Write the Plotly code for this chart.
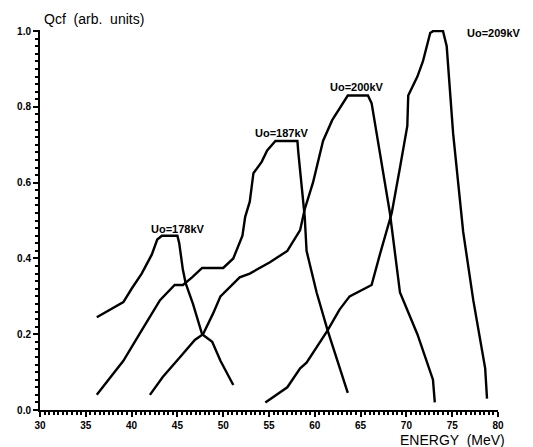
import plotly.graph_objects as go

# Uo = 178 kV
e178 = [36.2, 39.1, 40.0, 41.1, 42.2, 42.8, 43.3, 45.0, 45.2, 45.6, 45.9, 46.7, 47.7, 48.8, 49.7, 51.1]
q178 = [0.245, 0.285, 0.32, 0.36, 0.41, 0.45, 0.46, 0.46, 0.44, 0.37, 0.335, 0.28, 0.20, 0.18, 0.13, 0.066]

# Uo = 187 kV
e187 = [36.2, 39.1, 41.1, 43.1, 44.7, 45.6, 46.6, 47.7, 50.0, 51.1, 52.1, 52.4, 52.9, 53.3, 54.2, 54.8,
        55.7, 58.1, 58.2, 58.6, 58.9, 59.1, 60.2, 61.4, 62.5, 63.6]
q187 = [0.04, 0.13, 0.21, 0.29, 0.33, 0.33, 0.35, 0.375, 0.375, 0.40, 0.46, 0.51, 0.55, 0.625, 0.655, 0.685,
        0.71, 0.71, 0.68, 0.59, 0.51, 0.42, 0.31, 0.21, 0.125, 0.045]

# Uo = 200 kV
e200 = [42.0, 43.4, 45.3, 46.9, 47.8, 48.9, 49.7, 50.7, 51.8, 52.9, 55.1, 57.0, 58.4, 58.9, 59.8, 60.9,
        61.9, 63.6, 65.8, 66.2, 67.1, 68.2, 69.3, 71.2, 72.9, 73.1]
q200 = [0.04, 0.087, 0.14, 0.185, 0.20, 0.255, 0.30, 0.325, 0.35, 0.36, 0.39, 0.42, 0.475, 0.53, 0.60, 0.71,
        0.765, 0.83, 0.83, 0.81, 0.68, 0.52, 0.31, 0.20, 0.08, 0.02]

# Uo = 209 kV
e209 = [54.6, 57.0, 58.4, 59.1, 61.4, 62.7, 63.8, 65.7, 66.2, 67.1, 68.4, 69.3, 70.1, 70.2, 71.2, 71.8,
        72.6, 72.9, 74.0, 74.4, 75.1, 76.2, 77.3, 78.6, 78.8]
q209 = [0.02, 0.06, 0.11, 0.125, 0.21, 0.265, 0.30, 0.325, 0.33, 0.41, 0.52, 0.64, 0.75, 0.83, 0.88, 0.92,
        0.995, 1.0, 1.0, 0.96, 0.73, 0.47, 0.29, 0.11, 0.03]

labels = ["Uo=178kV", "Uo=187kV", "Uo=200kV", "Uo=209kV"]
label_e = [45.1, 56.4, 64.6, 79.6]
label_q = [0.477, 0.73, 0.852, 0.995]

x_ticks = [30, 35, 40, 45, 50, 55, 60, 65, 70, 75, 80]
y_ticks = [0.0, 0.2, 0.4, 0.6, 0.8, 1.0]

fig = go.Figure()
for e, q in [(e178, q178), (e187, q187), (e200, q200), (e209, q209)]:
    fig.add_trace(go.Scatter(x=e, y=q, mode="lines",
                             line=dict(color="black", width=2.4), showlegend=False, hoverinfo="skip"))

font = "Liberation Sans, Arial, sans-serif"
for t, x, y in zip(labels, label_e, label_q):
    fig.add_annotation(x=x, y=y, xref="x", yref="y", text=t, showarrow=False,
                       font=dict(family=font, size=11, color="black", weight="bold"))

fig.add_annotation(x=0.005, y=1.0, xref="paper", yref="paper", text="Qcf  (arb.  units)", showarrow=False,
                   xanchor="left", yanchor="bottom", yshift=1,
                   font=dict(family=font, size=14, color="black"))
fig.add_annotation(x=1.02, y=0, xref="paper", yref="paper", text="ENERGY  (MeV)", showarrow=False,
                   xanchor="right", yanchor="top", yshift=-20,
                   font=dict(family=font, size=14, color="black"))

fig.update_layout(
    width=533, height=447,
    margin=dict(l=40, r=35, t=30, b=37),
    paper_bgcolor="white", plot_bgcolor="white",
    xaxis=dict(range=[30, 80], tickvals=x_ticks, ticktext=[str(v) for v in x_ticks],
               showline=True, linecolor="black", linewidth=2, showgrid=False, zeroline=False,
               ticks="outside", ticklen=5, tickwidth=2, tickcolor="black",
               minor=dict(dtick=0.5, ticks="outside", ticklen=3, tickwidth=1.5, tickcolor="black"),
               tickfont=dict(family=font, size=10, color="black", weight="bold")),
    yaxis=dict(range=[0, 1.003], tickvals=y_ticks, ticktext=["%.1f" % v for v in y_ticks],
               showline=True, linecolor="black", linewidth=2, showgrid=False, zeroline=False,
               ticks="outside", ticklen=5, tickwidth=2, tickcolor="black",
               minor=dict(dtick=0.02, ticks="outside", ticklen=3, tickwidth=1.5, tickcolor="black"),
               tickfont=dict(family=font, size=10, color="black", weight="bold")),
)

fig.write_html("out.html")
